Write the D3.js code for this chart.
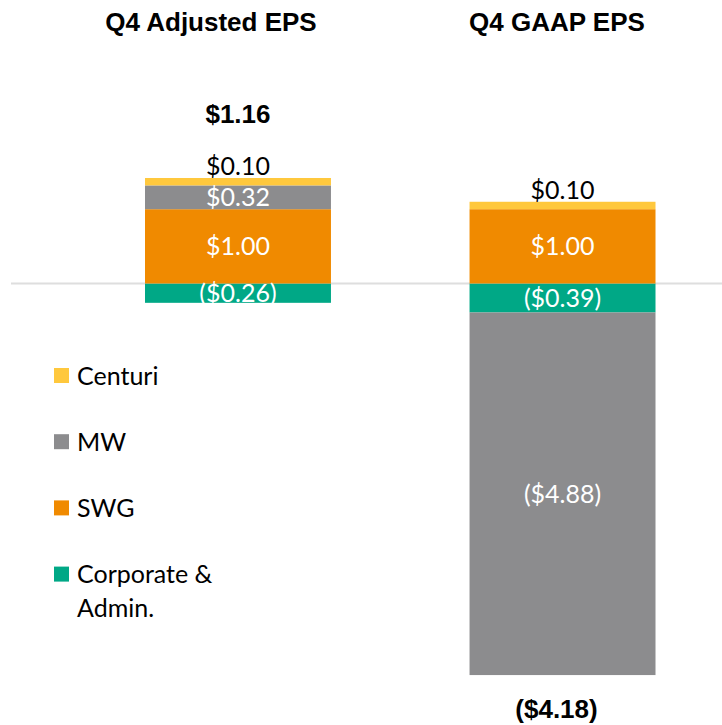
<!DOCTYPE html>
<html>
<head>
<meta charset="utf-8">
<script src="https://cdn.jsdelivr.net/npm/d3@7"></script>
<style>
  body { margin: 0; background: #fff; }
  svg { display: block; }
</style>
</head>
<body>
<svg id="chart" width="722" height="725"></svg>
<script>
// Data
const categories = ["Q4 Adjusted EPS", "Q4 GAAP EPS"]
const centuri = [0.10, 0.10]
const mw = [0.32, -4.88]
const swg = [1.00, 1.00]
const corporate = [-0.26, -0.39]
const totals = [1.16, -4.18]
const legendLabels = ["Centuri", "MW", "SWG", "Corporate &|Admin."]

const keys = ["corporate", "swg", "mw", "centuri"]
const colors = {centuri: "#FFC83D", mw: "#8C8C8E", swg: "#F08A00", corporate: "#00A886"}

let rows = categories.map((c, i) => ({
  cat: c, centuri: centuri[i], mw: mw[i], swg: swg[i], corporate: corporate[i]
}))

let svg = d3.select("#chart")

// scales
let x = d3.scaleBand().domain(categories).range([145, 655.5]).paddingInner(0.427).paddingOuter(0)
let y = d3.scaleLinear().domain([-5.5, 1.5]).range([692.15, 172.05])

const fmt = (v) => v >= 0 ? "$" + v.toFixed(2) : "($" + (-v).toFixed(2) + ")"

// zero line
svg.append("line")
  .attr("x1", 11).attr("x2", 722)
  .attr("y1", y(0)).attr("y2", y(0))
  .attr("stroke", "#dedede")
  .attr("stroke-width", 2)

let series = d3.stack().keys(keys).offset(d3.stackOffsetDiverging)(rows)

let layer = svg.selectAll(".layer")
  .data(series)
  .enter().append("g")
    .attr("class", "layer")
    .attr("fill", (s) => colors[s.key])

layer.selectAll("rect")
  .data((s) => s)
  .enter().append("rect")
    .attr("x", (d) => x(d.data.cat))
    .attr("width", x.bandwidth())
    .attr("y", (d) => y(Math.max(d[0], d[1])))
    .attr("height", (d) => Math.abs(y(d[0]) - y(d[1])))

// segment labels
series.forEach((s) => {
  s.forEach((d) => {
    let v = d.data[s.key]
    let cx = x(d.data.cat) + x.bandwidth() / 2
    let top = y(Math.max(d[0], d[1]))
    let mid = (y(d[0]) + y(d[1])) / 2
    let t = svg.append("text")
      .attr("x", cx)
      .attr("text-anchor", "middle")
      .style("font", "25px Lato, 'Open Sans', sans-serif")
      .text(fmt(v))
    if (s.key === "centuri") {
      t.attr("y", top - 3).attr("fill", "#000")
    } else {
      t.attr("y", mid).attr("dy", "0.36em").attr("fill", "#fff")
    }
  })
})

// totals
totals.forEach((v, i) => {
  let cx = x(categories[i]) + x.bandwidth() / 2
  let ext = d3.extent(series.flatMap((s) => [s[i][0], s[i][1]]))
  svg.append("text")
    .attr("x", v >= 0 ? cx : cx - 6)
    .attr("y", v >= 0 ? y(ext[1]) - 55 : y(ext[0]) + 43)
    .attr("text-anchor", "middle")
    .style("font", "bold 26px 'Liberation Sans', Arial, sans-serif")
    .text(fmt(v))
})

// titles
const titleX = [211, 557]
categories.forEach((c, i) => {
  svg.append("text")
    .attr("x", titleX[i])
    .attr("y", 30.5)
    .attr("text-anchor", "middle")
    .style("font", "bold 26px 'Liberation Sans', Arial, sans-serif")
    .text(c)
})

// legend
const legendKeys = ["centuri", "mw", "swg", "corporate"]
let legend = svg.selectAll(".legend")
  .data(legendKeys)
  .enter().append("g")
    .attr("class", "legend")
    .attr("transform", (d, i) => "translate(54," + (375.5 + i * 66.2) + ")")

legend.append("rect")
  .attr("x", 0).attr("y", -7.5)
  .attr("width", 15).attr("height", 15)
  .attr("fill", (d) => colors[d])

legend.append("text")
  .attr("x", 23)
  .attr("y", 0)
  .style("font", "25px Lato, 'Open Sans', sans-serif")
  .attr("fill", "#000")
  .each(function(d, i) {
    let lines = legendLabels[i].split("|")
    d3.select(this).selectAll("tspan")
      .data(lines)
      .enter().append("tspan")
        .attr("x", 23)
        .attr("dy", (l, j) => j === 0 ? "0.36em" : "34px")
        .text((l) => l)
  })
</script>
</body>
</html>
